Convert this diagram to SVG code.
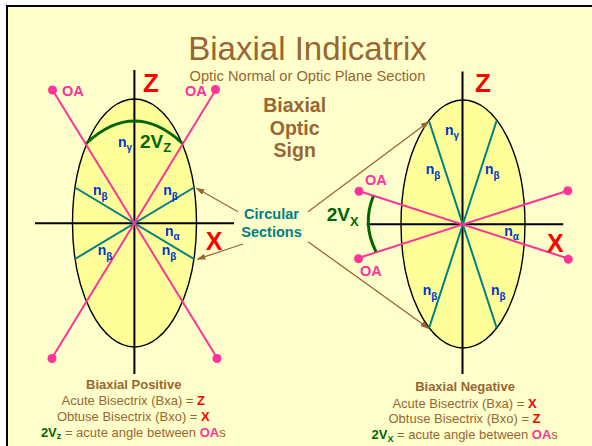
<svg xmlns="http://www.w3.org/2000/svg" width="592" height="446" viewBox="0 0 592 446">
<style>
text{font-family:"Liberation Sans",Arial,sans-serif}
.brown{fill:#996633}
.b{font-weight:bold}
.axis{stroke:#000;stroke-width:2;fill:none}
.ell{fill:#FFFF99;stroke:#000;stroke-width:1.4}
.oa{stroke:#FF3399;stroke-width:2;fill:none}
.dot{fill:#FF3399}
.cs{stroke:#008080;stroke-width:2;fill:none}
.arc{stroke:#006600;stroke-width:3;fill:none}
.arr{stroke:#996633;stroke-width:1.3;fill:none;marker-end:url(#ah)}
.n{fill:#0033CC;font-weight:bold;font-size:14px}
.sub{font-size:10px}
.oal{fill:#FF3399;font-weight:bold;font-size:14.5px}
.red{fill:#FF0000;font-weight:bold}
.grn{fill:#006600;font-weight:bold}
.teal{fill:#008080;font-weight:bold;font-size:14.5px}
.cap{font-size:13px;text-anchor:middle}
</style>
<defs>
<marker id="ah" markerWidth="9" markerHeight="6" refX="8" refY="3" orient="auto" markerUnits="userSpaceOnUse">
<path d="M0,0 L9,3 L0,6 z" fill="#996633"/>
</marker>
</defs>
<rect x="0" y="0" width="592" height="446" fill="#FFFFFF"/>
<rect x="7" y="6" width="600" height="460" fill="#FFFFCC" stroke="#000" stroke-width="2"/>
<g id="title">
<text x="307.5" y="60" font-size="33" text-anchor="middle" class="brown">Biaxial Indicatrix</text>
<text x="307.5" y="80.7" font-size="14.7" text-anchor="middle" class="brown">Optic Normal or Optic Plane Section</text>
</g>
<g id="sign-label">
<text x="294.7" y="112.3" font-size="19.5" text-anchor="middle" class="brown b">Biaxial</text>
<text x="294.7" y="134.8" font-size="19.5" text-anchor="middle" class="brown b">Optic</text>
<text x="294.7" y="157.3" font-size="19.5" text-anchor="middle" class="brown b">Sign</text>
</g>
<g id="positive-indicatrix">
<ellipse class="ell" cx="134.5" cy="223" rx="62" ry="124"/>
<line class="axis" x1="134.4" y1="70" x2="134.4" y2="374"/>
<line class="axis" x1="35" y1="223.3" x2="234" y2="223.3"/>
<line class="cs" x1="75" y1="187.5" x2="194" y2="259"/>
<line class="cs" x1="75" y1="259" x2="194" y2="187.5"/>
<line class="oa" x1="52.5" y1="90" x2="216.5" y2="357"/>
<line class="oa" x1="216" y1="89.5" x2="52" y2="358"/>
<circle class="dot" cx="52.5" cy="90" r="4.5"/>
<circle class="dot" cx="215.5" cy="89.5" r="4.5"/>
<circle class="dot" cx="52" cy="358.5" r="4.5"/>
<circle class="dot" cx="217" cy="358.5" r="4.5"/>
<path class="arc" d="M86.7,143 Q134.5,99 182,143"/>
<text x="62" y="95.5" class="oal">OA</text>
<text x="185" y="95.5" class="oal">OA</text>
<text x="151" y="92" font-size="26" text-anchor="middle" class="red">Z</text>
<text x="214.2" y="250" font-size="25" text-anchor="middle" class="red">X</text>
<text x="140" y="147.5" font-size="19" class="grn">2V<tspan font-size="13" dy="4.5">Z</tspan></text>
<text x="118" y="147.3" class="n">n<tspan class="sub" dy="4">γ</tspan></text>
<text x="93" y="195" class="n">n<tspan class="sub" dy="4.5">β</tspan></text>
<text x="163.3" y="195" class="n">n<tspan class="sub" dy="4.5">β</tspan></text>
<text x="165" y="235.7" class="n">n<tspan class="sub" dy="4.5">α</tspan></text>
<text x="97.7" y="255" class="n">n<tspan class="sub" dy="4.5">β</tspan></text>
<text x="161.7" y="255" class="n">n<tspan class="sub" dy="4.5">β</tspan></text>
</g>
<g id="negative-indicatrix">
<ellipse class="ell" cx="463" cy="224" rx="62" ry="124"/>
<line class="axis" x1="462.5" y1="71.5" x2="462.5" y2="374"/>
<line class="axis" x1="366.7" y1="224.3" x2="563.3" y2="224.3"/>
<line class="cs" x1="429" y1="121" x2="496.7" y2="328"/>
<line class="cs" x1="496.7" y1="120.5" x2="429" y2="328.3"/>
<line class="oa" x1="358.8" y1="191" x2="568" y2="258.5"/>
<line class="oa" x1="358.5" y1="258" x2="567.7" y2="190.7"/>
<circle class="dot" cx="359" cy="191.2" r="4.5"/>
<circle class="dot" cx="567.8" cy="190.7" r="4.5"/>
<circle class="dot" cx="358.5" cy="258.8" r="4.5"/>
<circle class="dot" cx="568.3" cy="259.3" r="4.5"/>
<path class="arc" d="M373.3,196.2 Q362,224 376,251.7"/>
<text x="365" y="185" class="oal">OA</text>
<text x="360" y="275.7" class="oal">OA</text>
<text x="483" y="92.3" font-size="26" text-anchor="middle" class="red">Z</text>
<text x="555.3" y="251.7" font-size="25" text-anchor="middle" class="red">X</text>
<text x="326.7" y="221" font-size="19" class="grn">2V<tspan font-size="13" dy="4.5">X</tspan></text>
<text x="445" y="135" class="n">n<tspan class="sub" dy="4">γ</tspan></text>
<text x="425.7" y="174.3" class="n">n<tspan class="sub" dy="4.5">β</tspan></text>
<text x="485" y="174.3" class="n">n<tspan class="sub" dy="4.5">β</tspan></text>
<text x="504.3" y="235.7" class="n">n<tspan class="sub" dy="4.5">α</tspan></text>
<text x="422.7" y="295" class="n">n<tspan class="sub" dy="4.5">β</tspan></text>
<text x="491" y="295" class="n">n<tspan class="sub" dy="4.5">β</tspan></text>
</g>
<g id="circular-sections">
<text x="271.5" y="219" text-anchor="middle" class="teal">Circular</text>
<text x="271.5" y="236.7" text-anchor="middle" class="teal">Sections</text>
</g>
<g id="connectors">
<line class="arr" x1="238" y1="211.7" x2="196.5" y2="188.2"/>
<line class="arr" x1="243" y1="244" x2="197.5" y2="259.2"/>
<line class="arr" x1="308" y1="211.7" x2="429" y2="121.5"/>
<line class="arr" x1="308" y1="241.7" x2="428.5" y2="328.3"/>
</g>
<g id="positive-caption">
<text x="133.7" y="389" class="cap brown b">Biaxial Positive</text>
<text x="133.3" y="405" class="cap brown">Acute Bisectrix (Bxa) = <tspan class="red">Z</tspan></text>
<text x="133.3" y="420.5" class="cap brown">Obtuse Bisectrix (Bxo) = <tspan class="red">X</tspan></text>
<text x="133.3" y="436.7" class="cap brown"><tspan class="grn">2V</tspan><tspan class="grn" font-size="9" dy="2.5">z</tspan><tspan dy="-2.5"> = acute angle between </tspan><tspan class="b" fill="#FF3399">OA</tspan>s</text>
</g>
<g id="negative-caption">
<text x="465" y="391" class="cap brown b">Biaxial Negative</text>
<text x="464.5" y="407.7" class="cap brown">Acute Bisectrix (Bxa) = <tspan class="red">X</tspan></text>
<text x="464.5" y="423.3" class="cap brown">Obtuse Bisectrix (Bxo) = <tspan class="red">Z</tspan></text>
<text x="464.7" y="439.3" class="cap brown"><tspan class="grn">2V</tspan><tspan class="grn" font-size="9" dy="2.5">X</tspan><tspan dy="-2.5"> = acute angle between </tspan><tspan class="b" fill="#FF3399">OA</tspan>s</text>
</g>
</svg>
